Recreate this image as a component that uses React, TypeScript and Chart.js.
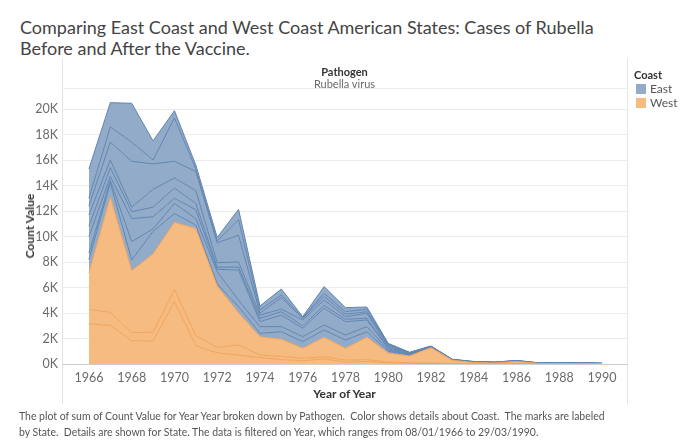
import React, { useEffect, useRef } from "react";
import { Chart, registerables } from "chart.js";

Chart.register(...registerables);

const years = [1966, 1967, 1968, 1969, 1970, 1971, 1972, 1973, 1974, 1975, 1976, 1977, 1978, 1979, 1980, 1981, 1982, 1983, 1984, 1985, 1986, 1987, 1988, 1989, 1990];
const tickYears = [1966, 1968, 1970, 1972, 1974, 1976, 1978, 1980, 1982, 1984, 1986, 1988, 1990];
const yTicks = [0, 2000, 4000, 6000, 8000, 10000, 12000, 14000, 16000, 18000, 20000];

// West coast states (orange), bottom of the stack
const westA = [3140, 3030, 1830, 1800, 4890, 1440, 870, 700, 500, 350, 250, 400, 150, 200, 100, 50, 40, 20, 10, 10, 20, 10, 0, 10, 0];
const westB = [1150, 1020, 630, 700, 970, 780, 440, 790, 200, 250, 200, 170, 150, 150, 50, 50, 40, 30, 20, 10, 20, 10, 10, 10, 10];
const westC = [2870, 9020, 4860, 6130, 5250, 8390, 4810, 2510, 1440, 1340, 780, 1520, 930, 1750, 700, 530, 1200, 240, 90, 60, 160, 30, 20, 30, 20];

// East coast states (blue), stacked above
const east1 = [1040, 1130, 840, 1770, 690, 290, 150, 500, 260, 590, 520, 580, 650, 430, 150, 50, 20, 10, 10, 10, 10, 10, 10, 10, 5];
const east2 = [500, 200, 1440, 200, 800, 500, 970, 500, 530, 400, 390, 390, 390, 400, 100, 40, 20, 10, 10, 10, 10, 5, 5, 5, 5];
const east3 = [1300, 300, 1800, 950, 400, 700, 190, 2370, 390, 910, 660, 1310, 1050, 520, 100, 40, 20, 10, 10, 10, 10, 5, 5, 5, 5];
const east4 = [800, 700, 550, 750, 800, 500, 170, 230, 260, 260, 200, 230, 180, 150, 100, 40, 20, 10, 10, 10, 10, 5, 5, 5, 5];
const east5 = [900, 600, 350, 1400, 800, 1000, 350, 400, 260, 200, 450, 420, 210, 370, 100, 40, 20, 10, 10, 10, 10, 5, 5, 5, 0];
const east6 = [700, 1400, 3600, 2000, 1300, 1500, 1550, 2100, 160, 900, 130, 280, 190, 130, 100, 40, 10, 10, 10, 10, 10, 10, 10, 10, 5];
const east7 = [600, 1200, 1500, 300, 3400, 200, 150, 1200, 240, 210, 70, 240, 200, 200, 50, 20, 10, 10, 10, 5, 10, 5, 5, 5, 0];
const east8 = [2300, 1900, 3050, 1500, 570, 300, 280, 830, 310, 470, 60, 530, 320, 170, 70, 20, 10, 10, 10, 5, 10, 5, 5, 5, 5];

const westSeries = [westA, westB, westC];
const eastSeries = [east1, east2, east3, east4, east5, east6, east7, east8];

const WEST_FILL = "#f6bb80";
const WEST_LINE = "#f2a35a";
const EAST_FILL = "#92abc9";
const EAST_LINE = "#5f84b0";

const FONT = "Lato, 'Noto Sans', sans-serif";

export default function App() {
  const ref = useRef<HTMLCanvasElement | null>(null);

  useEffect(() => {
    const prevMargin = document.body.style.margin;
    document.body.style.margin = "0";
    const canvas = ref.current;
    if (!canvas) return;
    Chart.defaults.font.family = FONT;

    const mk = (arr: number[], west: boolean, i: number) => ({
      label: (west ? "West " : "East ") + (i + 1),
      data: years.map((yr, k) => ({ x: yr, y: arr[k] })),
      fill: i === 0 && west ? "origin" : "-1",
      backgroundColor: west ? WEST_FILL : EAST_FILL,
      borderColor: west ? WEST_LINE : EAST_LINE,
      borderWidth: 1,
      pointRadius: 0,
      tension: 0,
    });

    const datasets = [
      ...westSeries.map((a, i) => mk(a, true, i)),
      ...eastSeries.map((a, i) => mk(a, false, i)),
    ];

    const chart = new Chart(canvas, {
      type: "line",
      data: { datasets: datasets as any },
      options: {
        responsive: false,
        animation: false,
        layout: { padding: { top: 89, right: 62, left: 0, bottom: 46 } },
        plugins: { legend: { display: false }, tooltip: { enabled: false } },
        scales: {
          x: {
            type: "linear",
            min: 1964.74,
            max: 1991.17,
            afterFit: (s: any) => { s.height = 30; },
            afterBuildTicks: (s: any) => { s.ticks = tickYears.map((v) => ({ value: v })); },
            grid: { display: false, drawTicks: false },
            border: { display: true, color: "#cfcfcf" },
            ticks: {
              color: "#6b6b6b",
              font: { size: 12.5, family: FONT },
              padding: 6,
              maxRotation: 0,
              autoSkip: false,
              callback: (v: any) => String(v),
            },
          },
          y: {
            type: "linear",
            stacked: true,
            min: 0,
            max: 21570,
            afterFit: (s: any) => { s.width = 62; },
            afterBuildTicks: (s: any) => { s.ticks = yTicks.map((v) => ({ value: v })); },
            grid: { color: "#ececec", drawTicks: false },
            border: { display: false },
            ticks: {
              color: "#6b6b6b",
              font: { size: 12.5, family: FONT },
              padding: 4,
              autoSkip: false,
              callback: (v: any) => v / 1000 + "K",
            },
          },
        },
      },
    });
    return () => {
      chart.destroy();
      document.body.style.margin = prevMargin;
    };
  }, []);

  const abs = (o: any): React.CSSProperties => ({ position: "absolute", ...o });

  return (
    <div style={{ position: "fixed", left: 0, top: 0, width: 689, height: 440, background: "#fff", fontFamily: FONT, overflow: "hidden" }}>
      <div style={abs({ left: 20, top: 17, fontSize: 18, lineHeight: "21px", color: "#444", whiteSpace: "nowrap" })}>
        Comparing East Coast and West Coast American States: Cases of Rubella
        <br />
        Before and After the Vaccine.
      </div>
      <div style={abs({ left: 62, top: 58, width: 1, height: 346, background: "#e4e4e4" })} />
      <div style={abs({ left: 627, top: 58, width: 1, height: 346, background: "#e4e4e4" })} />
      <div style={abs({ left: 62, top: 88, width: 565, height: 1, background: "#ececec" })} />
      <canvas ref={ref} width={689} height={440} style={{ position: "absolute", left: 0, top: 0, display: "block" }} />
      <div style={abs({ left: 62, top: 66, width: 565, textAlign: "center", fontSize: 11, fontWeight: 700, color: "#333", lineHeight: "12px" })}>Pathogen</div>
      <div style={abs({ left: 62, top: 78, width: 565, textAlign: "center", fontSize: 11, color: "#6b6b6b", lineHeight: "12px" })}>Rubella virus</div>
      <div style={abs({ left: 62, top: 387, width: 565, textAlign: "center", fontSize: 12, fontWeight: 700, color: "#333", lineHeight: "14px" })}>Year of Year</div>
      <div style={abs({ left: 30, top: 226, transform: "translate(-50%, -50%) rotate(-90deg)", fontSize: 12, fontWeight: 700, color: "#333", whiteSpace: "nowrap", lineHeight: "14px" })}>Count Value</div>
      <div style={abs({ left: 634, top: 68, fontSize: 11, fontWeight: 700, color: "#333", lineHeight: "13px" })}>Coast</div>
      <div style={abs({ left: 636, top: 84, width: 10, height: 10, background: EAST_FILL })} />
      <div style={abs({ left: 650, top: 82, fontSize: 12, color: "#555", lineHeight: "14px" })}>East</div>
      <div style={abs({ left: 636, top: 98, width: 10, height: 10, background: WEST_FILL })} />
      <div style={abs({ left: 650, top: 96, fontSize: 12, color: "#555", lineHeight: "14px" })}>West</div>
      <div style={abs({ left: 19, top: 408, fontSize: 10.45, color: "#555", lineHeight: "16px", whiteSpace: "nowrap" })}>
        The plot of sum of Count Value for Year Year broken down by Pathogen.&nbsp; Color shows details about Coast.&nbsp; The marks are labeled
        <br />
        by State.&nbsp; Details are shown for State. The data is filtered on Year, which ranges from 08/01/1966 to 29/03/1990.
      </div>
    </div>
  );
}
